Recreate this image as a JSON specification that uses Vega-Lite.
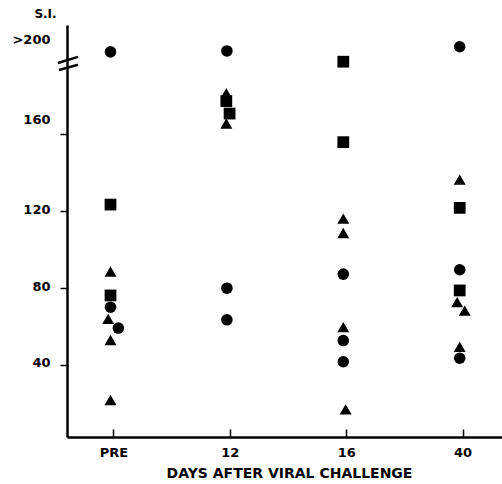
{
  "$schema": "https://vega.github.io/schema/vega-lite/v6.json",
  "width": 435,
  "height": 412,
  "autosize": {"type": "none"},
  "padding": {"left": 67, "top": 25, "right": 0, "bottom": 47},
  "background": "white",
  "config": {
    "view": {"stroke": null},
    "font": "DejaVu Sans"
  },
  "datasets": {
    "points": [
      {"day": "PRE", "x": 0, "si": 203, "symbol": "circle"},
      {"day": "PRE", "x": 0, "si": 123.5, "symbol": "square"},
      {"day": "PRE", "x": 0, "si": 88.7, "symbol": "triangle"},
      {"day": "PRE", "x": 0, "si": 76.2, "symbol": "square"},
      {"day": "PRE", "x": 0, "si": 70.1, "symbol": "circle"},
      {"day": "PRE", "x": -0.02, "si": 64, "symbol": "triangle"},
      {"day": "PRE", "x": 0.067, "si": 59.2, "symbol": "circle"},
      {"day": "PRE", "x": 0, "si": 53, "symbol": "triangle"},
      {"day": "PRE", "x": 0, "si": 21.8, "symbol": "triangle"},
      {"day": "12", "x": 1, "si": 203.5, "symbol": "circle"},
      {"day": "12", "x": 0.995, "si": 181.5, "symbol": "triangle"},
      {"day": "12", "x": 0.995, "si": 177.4, "symbol": "square"},
      {"day": "12", "x": 1.023, "si": 170.9, "symbol": "square"},
      {"day": "12", "x": 0.995, "si": 165.7, "symbol": "triangle"},
      {"day": "12", "x": 1, "si": 80, "symbol": "circle"},
      {"day": "12", "x": 1, "si": 63.5, "symbol": "circle"},
      {"day": "16", "x": 2, "si": 197.9, "symbol": "square"},
      {"day": "16", "x": 2, "si": 156, "symbol": "square"},
      {"day": "16", "x": 2, "si": 116.2, "symbol": "triangle"},
      {"day": "16", "x": 2, "si": 108.7, "symbol": "triangle"},
      {"day": "16", "x": 2, "si": 87.3, "symbol": "circle"},
      {"day": "16", "x": 2, "si": 59.7, "symbol": "triangle"},
      {"day": "16", "x": 2, "si": 52.7, "symbol": "circle"},
      {"day": "16", "x": 2, "si": 41.7, "symbol": "circle"},
      {"day": "16", "x": 2.02, "si": 16.9, "symbol": "triangle"},
      {"day": "40", "x": 3, "si": 205.7, "symbol": "circle"},
      {"day": "40", "x": 3, "si": 136.5, "symbol": "triangle"},
      {"day": "40", "x": 3, "si": 121.8, "symbol": "square"},
      {"day": "40", "x": 3, "si": 89.6, "symbol": "circle"},
      {"day": "40", "x": 3, "si": 78.8, "symbol": "square"},
      {"day": "40", "x": 2.978, "si": 72.7, "symbol": "triangle"},
      {"day": "40", "x": 3.043, "si": 68.3, "symbol": "triangle"},
      {"day": "40", "x": 3, "si": 49.4, "symbol": "triangle"},
      {"day": "40", "x": 3, "si": 43.5, "symbol": "circle"}
    ],
    "axisbreak": [
      {"x": -0.451, "y": 197.2, "x2": -0.279, "y2": 200.4},
      {"x": -0.443, "y": 193.6, "x2": -0.279, "y2": 196.3}
    ]
  },
  "layer": [
    {
      "data": {"name": "points"},
      "mark": {"type": "point", "filled": true, "opacity": 1, "color": "black", "strokeWidth": 0},
      "encoding": {
        "x": {
          "field": "x",
          "type": "quantitative",
          "scale": {"domain": [-0.3737, 3.3634], "nice": false, "zero": false},
          "axis": {
            "values": [0.025, 1.025, 2.025, 3.025],
            "labelExpr": "datum.value < 0.5 ? 'PRE' : datum.value < 1.5 ? '12' : datum.value < 2.5 ? '16' : '40'",
            "grid": false,
            "domainColor": "black",
            "domainWidth": 2.5,
            "tickColor": "black",
            "tickWidth": 1.5,
            "tickSize": -8,
            "labelFont": "DejaVu Sans",
            "labelFontSize": 13,
            "labelFontWeight": "bold",
            "labelColor": "black",
            "labelPadding": 17,
            "title": "DAYS  AFTER VIRAL CHALLENGE",
            "titleFont": "DejaVu Sans",
            "titleFontSize": 14,
            "titleFontWeight": "bold",
            "titleColor": "black",
            "titleX": 222,
            "titleY": 36,
            "titleAnchor": "middle",
            "titleAlign": "center",
            "titleBaseline": "middle"
          }
        },
        "y": {
          "field": "si",
          "type": "quantitative",
          "scale": {"domain": [2.5, 217], "nice": false, "zero": false},
          "axis": {
            "values": [40, 80, 120, 160, 208.4],
            "labelExpr": "datum.value > 200 ? '>200' : datum.label",
            "grid": false,
            "domainColor": "black",
            "domainWidth": 2.5,
            "tickColor": "black",
            "tickWidth": 1.5,
            "tickSize": 7,
            "tickOpacity": {"condition": {"test": "datum.value > 200", "value": 0}, "value": 1},
            "labelOffset": {"condition": {"test": "datum.value == 160", "value": -15}, "value": -2},
            "labelFont": "DejaVu Sans",
            "labelFontSize": 13,
            "labelFontWeight": "bold",
            "labelColor": "black",
            "labelPadding": 10,
            "title": "S.I.",
            "titleFont": "DejaVu Sans",
            "titleFontSize": 12,
            "titleFontWeight": "bold",
            "titleColor": "black",
            "titleAngle": 0,
            "titleX": -22,
            "titleY": -12,
            "titleAlign": "center",
            "titleBaseline": "middle"
          }
        },
        "shape": {
          "field": "symbol",
          "type": "nominal",
          "scale": {"domain": ["circle", "square", "triangle"], "range": ["circle", "square", "triangle-up"]},
          "legend": null
        },
        "size": {
          "field": "symbol",
          "type": "nominal",
          "scale": {"domain": ["circle", "square", "triangle"], "range": [133, 144, 196]},
          "legend": null
        }
      }
    },
    {
      "data": {"name": "axisbreak"},
      "mark": {"type": "rule", "color": "black", "strokeWidth": 2.5},
      "encoding": {
        "x": {"field": "x", "type": "quantitative"},
        "y": {"field": "y", "type": "quantitative"},
        "x2": {"field": "x2"},
        "y2": {"field": "y2"}
      }
    }
  ]
}
